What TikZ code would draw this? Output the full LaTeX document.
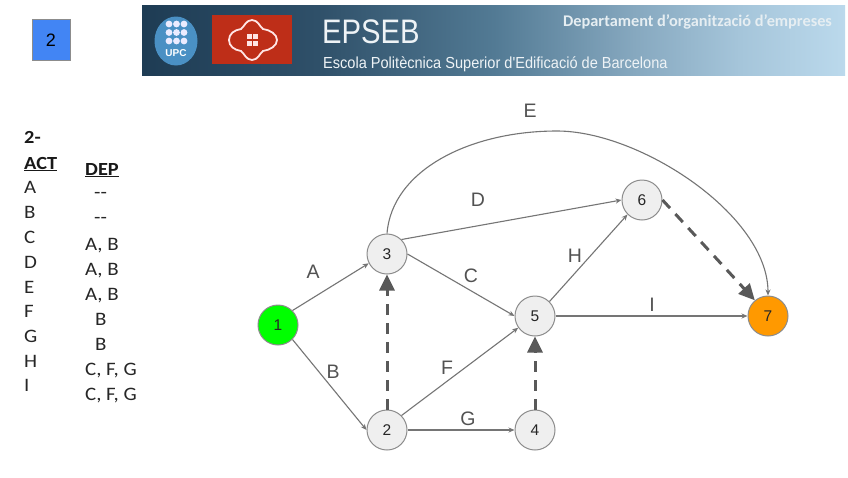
\documentclass[tikz,border=0pt]{standalone}
\usepackage{fontspec}
\setmainfont{Liberation Sans}
\newfontfamily\carl{Carlito}
\newfontfamily\carlwide[FakeStretch=1.1]{Carlito}
\newfontfamily\libnarrow[FakeStretch=0.86]{Liberation Sans}
\newfontfamily\libslim[FakeStretch=0.91]{Liberation Sans}
\usetikzlibrary{arrows.meta}
\definecolor{edgegray}{HTML}{757575}
\definecolor{dashgray}{HTML}{595959}
\definecolor{nodefill}{HTML}{EFEFEF}
\definecolor{nodeline}{HTML}{8C8C8C}
\definecolor{bannerA}{HTML}{1E3C54}
\definecolor{bannerB}{HTML}{2F5069}
\definecolor{bannerC}{HTML}{527A94}
\definecolor{bannerD}{HTML}{86A8BF}
\definecolor{bannerE}{HTML}{A5C5DA}
\definecolor{bannerF}{HTML}{BBD9EC}
\definecolor{boxblue}{HTML}{4285F4}
\definecolor{upcblue}{HTML}{4A90C4}
\definecolor{logored}{HTML}{BE2E18}
\definecolor{startgreen}{HTML}{00FF00}
\definecolor{endorange}{HTML}{FF9900}
\definecolor{depttext}{HTML}{E6EEF2}
\definecolor{bannertext}{HTML}{EEF3F6}
\pgfdeclarehorizontalshading{bannershade}{100bp}{
  color(0bp)=(bannerA); color(25bp)=(bannerA); color(37.5bp)=(bannerB); color(50bp)=(bannerC);
  color(60bp)=(bannerD); color(67.5bp)=(bannerE); color(75bp)=(bannerF); color(100bp)=(bannerF)}
\tikzset{
  x=1pt,y=-1pt,
  vertex/.style={circle,draw=nodeline,line width=1pt,fill=nodefill,minimum size=40pt,inner sep=0pt,font=\fontsize{15.5}{16}\selectfont,text=black!85},
  thinedge/.style={draw=edgegray,line width=1.1pt,-{Stealth[length=6pt,width=5pt]}},
  dashedge/.style={draw=dashgray,line width=3pt,dash pattern=on 11pt off 8pt,-{Triangle[length=16pt,width=15pt]}},
  elabel/.style={font=\fontsize{19.5}{20}\selectfont,text=black!68,inner sep=0pt},
  tabtext/.style={font=\carlwide\fontsize{19}{19}\selectfont,text=black!85,inner sep=0pt,anchor=base west},
  tabhead/.style={font=\carlwide\bfseries\fontsize{18.5}{19}\selectfont,text=black!90,inner sep=0pt,anchor=base west},
}
\begin{document}
\begin{tikzpicture}
\useasboundingbox (0,0) rectangle (848,477);
\fill[white] (0,0) rectangle (848,477);
% number box
\node[draw=black!45,line width=.8pt,minimum width=38pt,minimum height=41pt,inner sep=0pt,
  fill=boxblue,font=\fontsize{18}{18}\selectfont] (numbox) at (51,40) {2};
% banner
\shade[shading=bannershade] (142,5) rectangle (845,75);
\fill[upcblue] (176,41) ellipse [x radius=21.5,y radius=24.5];
\foreach \yy in {24,32.5,41}{
  \foreach \xx in {169,176.5,184}{ \fill[white!92!blue] (\xx,\yy) circle (3.4); }
}
\node[font=\bfseries\fontsize{10}{10}\selectfont,text=white,inner sep=0pt] (upc) at (176,53.5) {UPC};
\fill[logored] (212,15) rectangle (292,64);
\draw[white!90!red,line width=1.8pt] (252,20)
  .. controls (258,20) and (260,27) .. (263,29)
  .. controls (270,30) and (277,34) .. (277,40)
  .. controls (277,46) and (270,50) .. (263,51)
  .. controls (260,53) and (258,60) .. (252,60)
  .. controls (246,60) and (244,53) .. (241,51)
  .. controls (234,50) and (229,46) .. (229,40)
  .. controls (229,34) and (234,30) .. (241,29)
  .. controls (244,27) and (246,20) .. (252,20) -- cycle;
\foreach \xx/\yy in {247/34,253/34,247/40.5,253/40.5}{
  \fill[white!90!red] (\xx,\yy) rectangle (\xx+4.8,\yy+5);
}
\node[anchor=base west,inner sep=0pt,text=bannertext,font=\libnarrow\fontsize{34}{34}\selectfont] (epseb) at (322,43) {EPSEB};
\node[anchor=base west,inner sep=0pt,text=bannertext,font=\libslim\fontsize{16}{16}\selectfont] (escola) at (323,68) {Escola Politècnica Superior d'Edificació de Barcelona};
\node[anchor=base west,inner sep=0pt,text=depttext,font=\carl\bfseries\fontsize{16.3}{16}\selectfont] (dept) at (563,26) {Departament d’organització d’empreses};
% table
\node[tabhead] (t0) at (24,143) {2-};
\node[tabhead] (t1) at (24,169) {\underline{ACT}};
\foreach \lab/\yy in {A/193,B/218,C/243,D/268,E/293,F/317,G/342,H/367,I/391}{
  \node[tabtext] (act\lab) at (24,\yy) {\lab};
}
\node[tabhead] (d0) at (85,175) {\underline{DEP}};
\node[tabtext] (d1) at (94,198) {--};
\node[tabtext] (d2) at (94,223) {--};
\node[tabtext] (d3) at (85,250) {A, B};
\node[tabtext] (d4) at (85,275) {A, B};
\node[tabtext] (d5) at (85,300) {A, B};
\node[tabtext] (d6) at (95,325) {B};
\node[tabtext] (d7) at (95,350) {B};
\node[tabtext] (d8) at (85,375) {C, F, G};
\node[tabtext] (d9) at (85,400) {C, F, G};
% vertices
\node[vertex,fill=startgreen] (n1) at (278,325) {1};
\node[vertex] (n2) at (387,430) {2};
\node[vertex] (n3) at (387,254) {3};
\node[vertex] (n4) at (535,430) {4};
\node[vertex] (n5) at (535,316) {5};
\node[vertex] (n6) at (642,200) {6};
\node[vertex,fill=endorange] (n7) at (768,316) {7};
% edges
\draw[thinedge] (n1.45) -- (n3.207);
\draw[thinedge] (n1.-45) -- (n2.west);
\draw[thinedge] (n3.east) -- (n5.west);
\draw[thinedge] (n3.45) -- (n6.west);
\draw[thinedge] (n2.45) -- (n5.215);
\draw[thinedge] (n2.east) -- (n4.west);
\draw[thinedge] (n5.45) -- (n6.225);
\draw[thinedge] (n5.east) -- (n7.west);
\draw[thinedge] (n3.north) .. controls (392,170) and (470,131) .. (557,131)
  .. controls (640,131) and (768,215) .. (n7.north);
\draw[dashedge] (n2.north) -- (n3.south);
\draw[dashedge] (n4.north) -- (n5.south);
\draw[dashedge] (n6.east) -- (n7.130);
% labels
\node[elabel] (lE) at (530,111) {E};
\node[elabel] (lD) at (478,200) {D};
\node[elabel] (lA) at (313,272) {A};
\node[elabel] (lC) at (471,276) {C};
\node[elabel] (lB) at (333,372) {B};
\node[elabel] (lF) at (447,368) {F};
\node[elabel] (lG) at (468,419) {G};
\node[elabel] (lH) at (575,256) {H};
\node[elabel] (lI) at (652,305) {I};
\end{tikzpicture}
\end{document}
